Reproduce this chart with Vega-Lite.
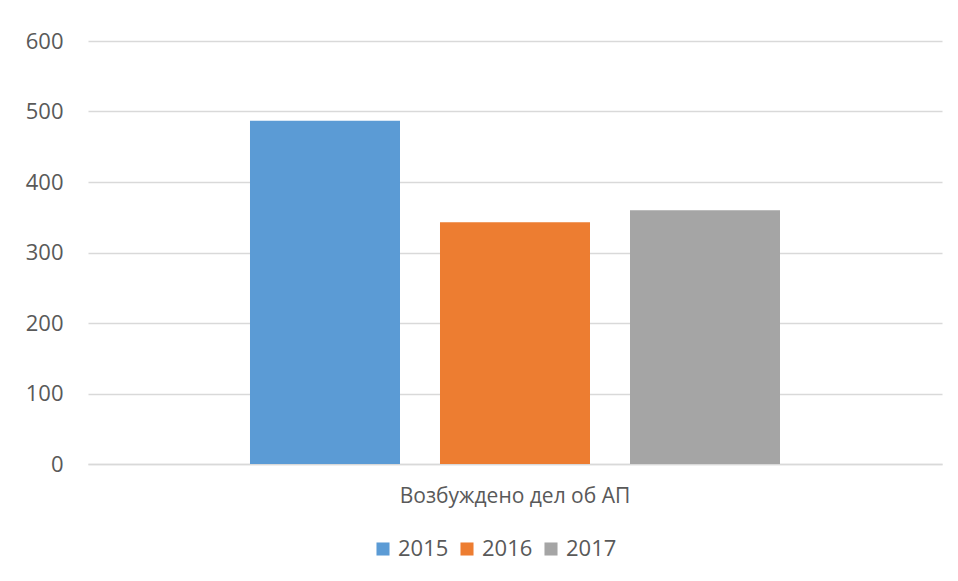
{
  "$schema": "https://vega.github.io/schema/vega-lite/v6.json",
  "autosize": {"type": "none"},
  "width": 854,
  "height": 423,
  "padding": {"left": 88, "top": 41, "right": 16, "bottom": 117},
  "background": "#ffffff",
  "data": {
    "values": [
      {"category": "Возбуждено дел об АП", "year": "2015", "value": 487},
      {"category": "Возбуждено дел об АП", "year": "2016", "value": 343},
      {"category": "Возбуждено дел об АП", "year": "2017", "value": 360}
    ]
  },
  "mark": {"type": "bar"},
  "encoding": {
    "x": {
      "field": "category",
      "type": "nominal",
      "scale": {"paddingInner": 0, "paddingOuter": 0},
      "axis": {
        "title": null,
        "labelAngle": 0,
        "labelLimit": 0,
        "ticks": false,
        "domainColor": "#d9d9d9",
        "domainWidth": 1.5,
        "labelPadding": 21,
        "labelFontSize": 21
      }
    },
    "xOffset": {
      "field": "year",
      "type": "nominal",
      "scale": {"paddingInner": 0.2105, "paddingOuter": 0.8526}
    },
    "y": {
      "field": "value",
      "type": "quantitative",
      "scale": {"domain": [0, 600], "nice": false},
      "axis": {
        "title": null,
        "values": [0, 100, 200, 300, 400, 500, 600],
        "domain": false,
        "ticks": false,
        "gridColor": "#d9d9d9",
        "gridWidth": 1.3,
        "labelPadding": 25,
        "labelFontSize": 22
      }
    },
    "color": {
      "field": "year",
      "type": "nominal",
      "scale": {
        "domain": ["2015", "2016", "2017"],
        "range": ["#5b9bd5", "#ed7d31", "#a5a5a5"]
      },
      "legend": {
        "title": null,
        "orient": "none",
        "legendX": 284,
        "legendY": 497,
        "direction": "horizontal",
        "symbolType": "square",
        "symbolSize": 170,
        "symbolStrokeWidth": 0,
        "labelFontSize": 22,
        "labelOffset": 4,
        "columnPadding": 7
      }
    }
  },
  "view": {"stroke": null},
  "config": {
    "font": "Open Sans",
    "axis": {
      "labelFont": "Open Sans",
      "labelColor": "#595959"
    },
    "legend": {
      "labelFont": "Open Sans",
      "labelColor": "#595959"
    }
  }
}
